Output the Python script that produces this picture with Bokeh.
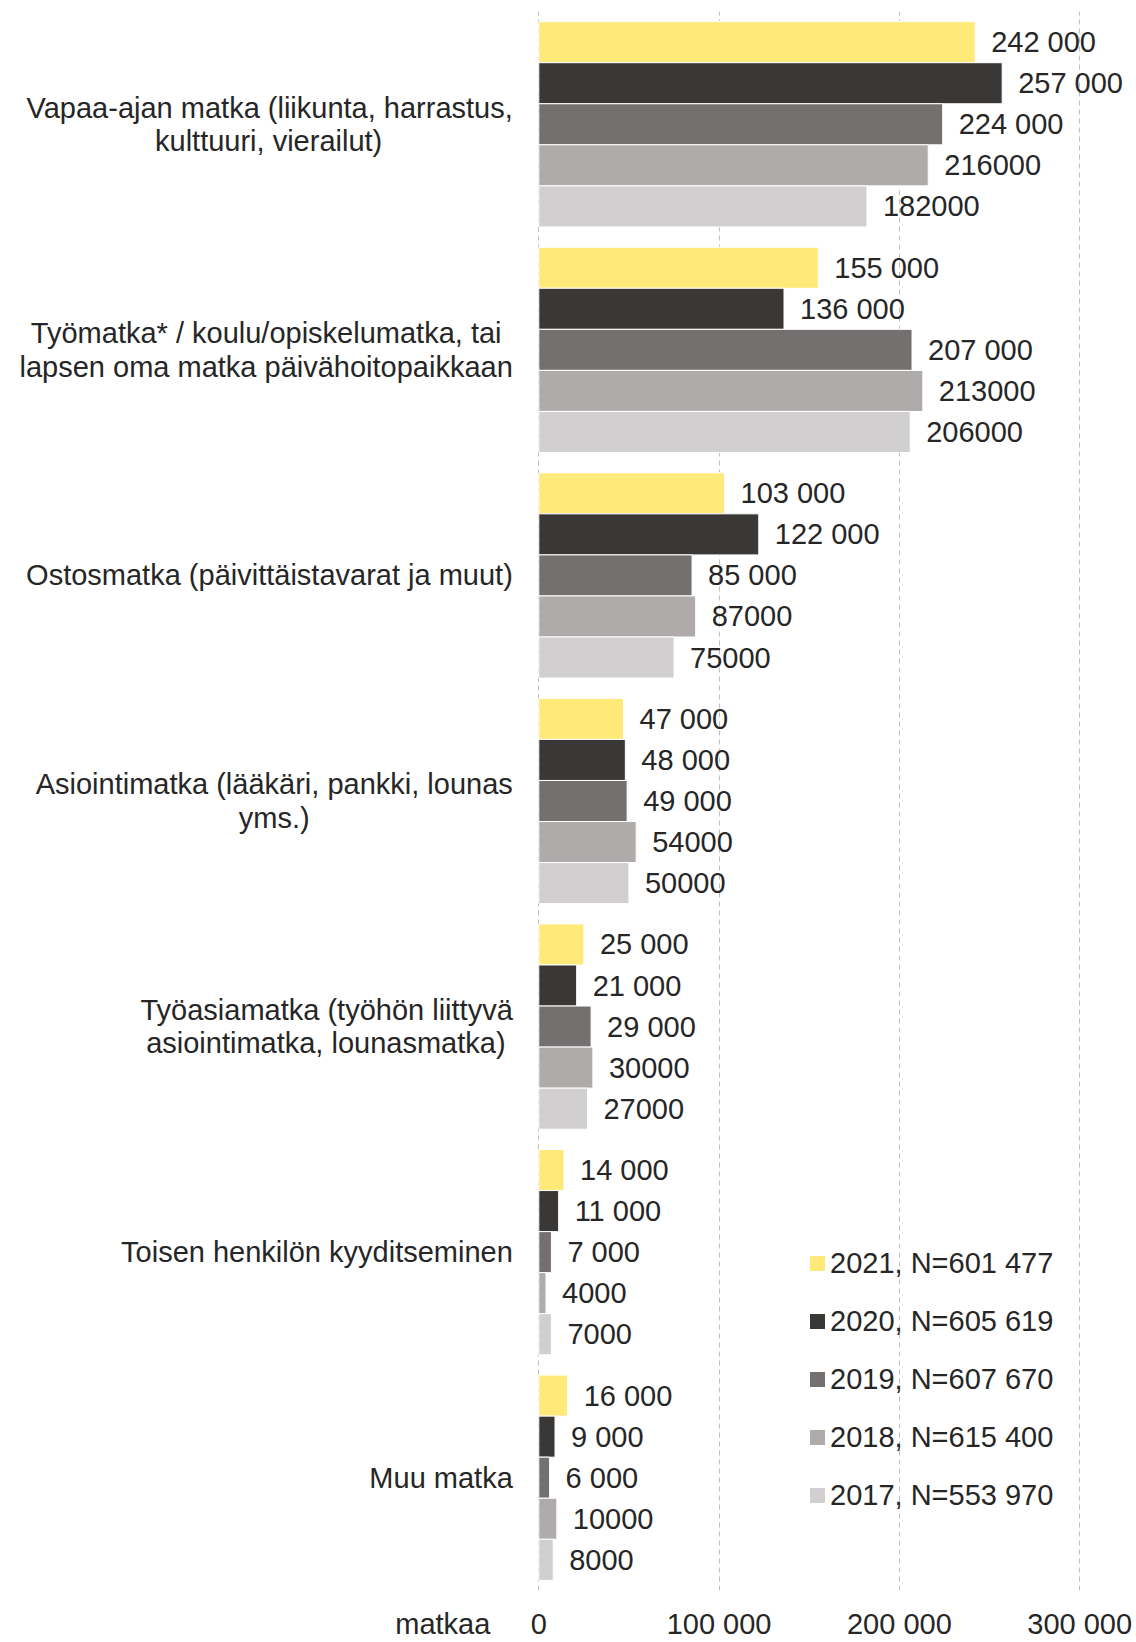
from bokeh.plotting import figure
from bokeh.models import ColumnDataSource, FactorRange, Range1d, FixedTicker, Legend, LegendItem
from bokeh.transform import dodge
from bokeh.core.properties import value
from bokeh.embed import file_html
from bokeh.resources import INLINE

# ---------------- data ----------------
category_lines = [
    ["Vapaa-ajan matka  (liikunta, harrastus,", "kulttuuri, vierailut)"],
    ["Työmatka* / koulu/opiskelumatka,  tai", "lapsen oma matka päivähoitopaikkaan"],
    ["Ostosmatka  (päivittäistavarat ja muut)"],
    ["Asiointimatka  (lääkäri, pankki, lounas", "yms.)"],
    ["Työasiamatka  (työhön liittyvä", "asiointimatka, lounasmatka)"],
    ["Toisen henkilön kyyditseminen"],
    ["Muu matka"],
]
years = ["2021", "2020", "2019", "2018", "2017"]
legend_labels = ["2021, N=601 477", "2020, N=605 619", "2019, N=607 670",
                 "2018, N=615 400", "2017, N=553 970"]
v2021 = [242000, 155000, 103000, 47000, 25000, 14000, 16000]
v2020 = [257000, 136000, 122000, 48000, 21000, 11000, 9000]
v2019 = [224000, 207000, 85000, 49000, 29000, 7000, 6000]
v2018 = [216000, 213000, 87000, 54000, 30000, 4000, 10000]
v2017 = [182000, 206000, 75000, 50000, 27000, 7000, 8000]
series = [v2021, v2020, v2019, v2018, v2017]
spaced_format = [True, True, True, False, False]   # label style per year
tick_values = [0, 100000, 200000, 300000]
tick_labels = ["0", "100 000", "200 000", "300 000"]
axis_title = "matkaa"

# ---------------- style ----------------
colors = ["#FFE978", "#3A3836", "#74706F", "#AFABAA", "#D1CFCF"]
TEXT = "#262626"
FONT = "Liberation Sans"
FS = 29
W, H = 1136, 1642
ZERO_PX = 538.3
PX_PER_UNIT = 180.3 / 100000.0
BAR_H = 0.182
LINE_PITCH = 33.5
LABEL_GAP = 26
SPACE_W = 278 * FS / 1000.0
offsets = [2 * BAR_H, BAR_H, 0.0, -BAR_H, -2 * BAR_H]

# Arial / Liberation Sans advance widths (per 1000 em)
AW = {' ': 278, '(': 333, ')': 333, '*': 389, ',': 278, '-': 333, '.': 278, '/': 278,
      'A': 667, 'M': 833, 'O': 778, 'T': 611, 'V': 667,
      'a': 556, 'b': 556, 'c': 500, 'd': 556, 'e': 556, 'f': 278, 'g': 556, 'h': 556,
      'i': 222, 'j': 222, 'k': 500, 'l': 222, 'm': 833, 'n': 556, 'o': 556, 'p': 556,
      'r': 333, 's': 500, 't': 278, 'u': 556, 'v': 500, 'y': 500, 'ä': 556, 'ö': 556}


def collapsed(s):
    return " ".join(s.split())


def text_width(s):
    return sum(AW.get(ch, 556) for ch in collapsed(s)) * FS / 1000.0


keys = [" ".join(lines) for lines in category_lines]

x_start = -ZERO_PX / PX_PER_UNIT
x_end = (W - ZERO_PX) / PX_PER_UNIT

p = figure(width=W, height=H, output_backend="svg", toolbar_location=None,
           x_range=Range1d(x_start, x_end),
           y_range=FactorRange(factors=list(reversed(keys))),
           y_axis_location=None,
           min_border_left=0, min_border_right=0, min_border_top=11, min_border_bottom=49)
p.outline_line_color = None
p.background_fill_color = "white"
p.border_fill_color = "white"

# grid
p.ygrid.visible = False
p.xgrid.ticker = FixedTicker(ticks=tick_values)
p.xgrid.grid_line_color = "#BFBFBF"
p.xgrid.grid_line_dash = "5 4"
p.xgrid.grid_line_width = 1

# x axis (with the unit title as a left-most label)
matkaa_val = float(round(-96 / PX_PER_UNIT))
p.xaxis.ticker = FixedTicker(ticks=[matkaa_val] + tick_values)
overrides = {matkaa_val: axis_title}
for tv, tl in zip(tick_values, tick_labels):
    overrides[float(tv)] = tl
p.xaxis.major_label_overrides = overrides
p.xaxis.axis_line_color = None
p.xaxis.major_tick_line_color = None
p.xaxis.minor_tick_line_color = None
p.xaxis.major_tick_out = 0
p.xaxis.major_tick_in = 0
p.xaxis.major_label_standoff = 17
p.xaxis.major_label_text_font = FONT
p.xaxis.major_label_text_font_size = f"{FS}px"
p.xaxis.major_label_text_color = TEXT

# bars + labels
bar_renderers = []
for j, vals in enumerate(series):
    if spaced_format[j]:
        labs = [f"{v:,}".replace(",", " ") for v in vals]
    else:
        labs = [str(v) for v in vals]
    src = ColumnDataSource(dict(cat=keys, val=vals, lab=labs))
    r = p.hbar(y=dodge("cat", offsets[j], range=p.y_range), right="val", left=0,
               height=BAR_H, source=src, fill_color=colors[j],
               line_color="white", line_width=1)
    bar_renderers.append(r)
    p.text(x="val", y=dodge("cat", offsets[j], range=p.y_range), text="lab", source=src,
           x_offset=16, text_align="left", text_baseline="middle",
           text_font=value(FONT), text_font_size=f"{FS}px", text_color=TEXT)

# category labels: block right-aligned next to the axis, lines centred in block
rows = dict(cat=[], txt=[], x0=[], xo=[], yo=[], al=[])
for key, lines in zip(keys, category_lines):
    widths = [text_width(l) for l in lines]
    wmax = max(widths)
    n = len(lines)
    for i, (l, w) in enumerate(zip(lines, widths)):
        extra = (len(l) - len(collapsed(l))) * SPACE_W   # width lost to collapsed spaces
        rows["cat"].append(key)
        rows["txt"].append(l)
        rows["x0"].append(0)
        rows["yo"].append((i - (n - 1) / 2.0) * LINE_PITCH)
        if w >= wmax - 0.01:
            rows["xo"].append(-LABEL_GAP + extra)
            rows["al"].append("right")
        else:
            rows["xo"].append(-(LABEL_GAP + wmax / 2.0) + extra / 2.0)
            rows["al"].append("center")
csrc = ColumnDataSource(rows)
p.text(x="x0", y="cat", text="txt", x_offset="xo", y_offset="yo", text_align="al",
       source=csrc, text_baseline="middle",
       text_font=value(FONT), text_font_size=f"{FS}px", text_color=TEXT)

legend = Legend(items=[LegendItem(label=legend_labels[j], renderers=[bar_renderers[j]])
                       for j in range(len(years))],
                location=(807, 78), glyph_width=20, glyph_height=20, label_standoff=3,
                label_height=34, spacing=24, padding=0, margin=0,
                border_line_color=None, background_fill_alpha=0,
                label_text_font=FONT, label_text_font_size=f"{FS}px",
                label_text_color=TEXT)
p.add_layout(legend)

open("out.html", "w").write(file_html(p, INLINE))
